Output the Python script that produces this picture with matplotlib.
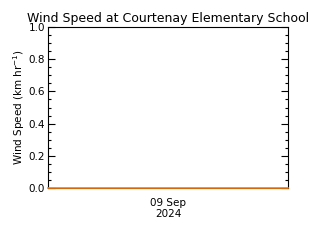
import matplotlib
matplotlib.use('Agg')
import matplotlib.pyplot as plt
import matplotlib.dates as mdates
from matplotlib.ticker import MultipleLocator
import datetime as dt

# hourly readings for 09 Sep 2024 (all calm)
hours = list(range(0, 25))
wind_speed = [0.0] * len(hours)
times = [dt.datetime(2024, 9, 9) + dt.timedelta(hours=h) for h in hours]

y_ticks = [0.0, 0.2, 0.4, 0.6, 0.8, 1.0]
x_label_time = dt.datetime(2024, 9, 9, 12)
x_label_text = '09 Sep\n2024'

fig = plt.figure(figsize=(3.2, 2.4), dpi=100)
ax = fig.add_axes([0.15, 0.217, 0.75, 0.67])

ax.plot(times, wind_speed, color='#ff7f0e', lw=1.2, clip_on=False, zorder=3)

ax.set_xlim(times[0], times[-1])
ax.set_ylim(0, 1)
ax.set_yticks(y_ticks)
ax.set_yticklabels([f'{v:.1f}' for v in y_ticks])
ax.yaxis.set_minor_locator(MultipleLocator(0.05))
ax.tick_params(axis='y', which='both', direction='in', right=True, labelsize=7.5, pad=2)
ax.tick_params(axis='y', which='major', length=5, width=0.8)
ax.tick_params(axis='y', which='minor', length=2.5, width=0.8)

ax.set_xticks([mdates.date2num(x_label_time)])
ax.set_xticklabels([x_label_text])
ax.tick_params(axis='x', length=0, labelsize=7.5, pad=7)

for s in ax.spines.values():
    s.set_linewidth(0.8)

ax.set_ylabel('Wind Speed (km hr$^{-1}$)', fontsize=7.5, labelpad=1)
ax.set_title('Wind Speed at Courtenay Elementary School', fontsize=9, pad=4)

fig.savefig('out.png', dpi=100)
